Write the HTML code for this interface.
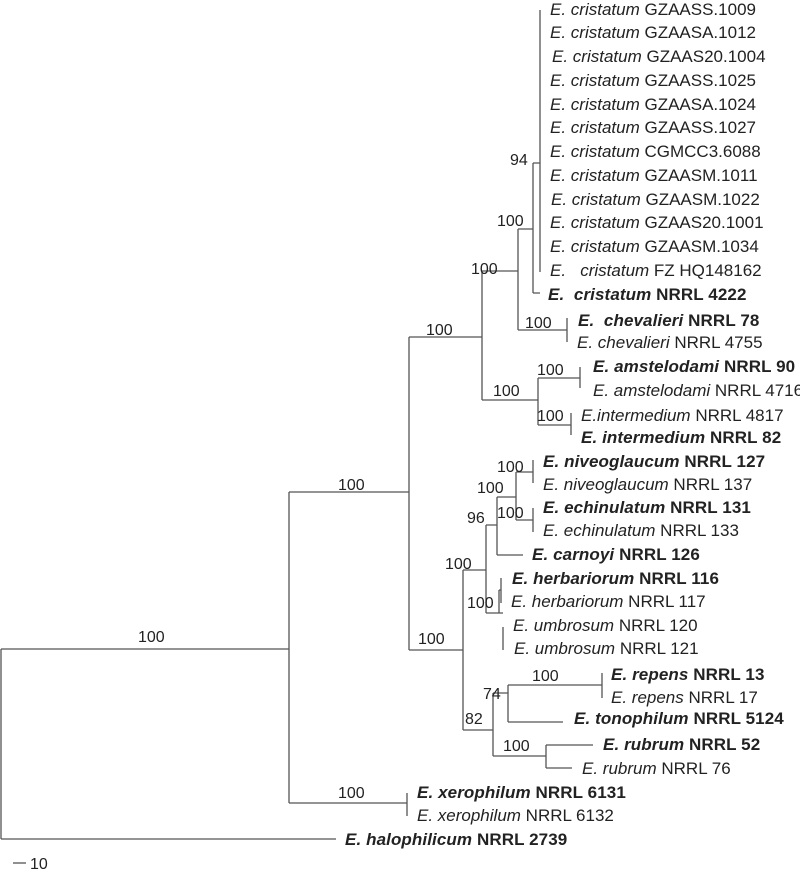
<!DOCTYPE html>
<html><head><meta charset="utf-8"><style>
body{margin:0;background:#fff}
svg{display:block}
text{font-family:"Liberation Sans",sans-serif;font-size:17px;fill:#222}
.n text{font-size:16px}
.i{font-style:italic}
.b{font-weight:bold;letter-spacing:0.1px}
</style></head><body>
<svg width="800" height="875" viewBox="0 0 800 875" xmlns="http://www.w3.org/2000/svg">
<g stroke="#555" stroke-width="1.3" fill="none">
<path d="M1 649V839M1 649H289M1 839H336"/>
<path d="M289 492V803M289 492H409M289 803H407M407 793V816"/>
<path d="M409 337V650M409 337H482M409 650H463"/>
<path d="M482 271V400M482 271H518M482 400H538"/>
<path d="M518 229V330M518 229H533M518 330H567M567 318V342"/>
<path d="M533 163V293M533 163H540M533 293H540M540 10V272"/>
<path d="M538 378V425M538 378H580M538 425H571M580 367V388M571 413V435"/>
<path d="M463 570V730M463 570H486M463 730H493"/>
<path d="M486 525V613M486 525H497M486 613H499"/>
<path d="M497 497V555M497 497H516M497 555H523"/>
<path d="M516 472V520M516 472H533M516 520H533M533 460V483M533 508V532"/>
<path d="M499 590V613M499 590H501M499 613H503M501 578V603M503 627V650"/>
<path d="M493 693V756M493 693H508M493 756H546"/>
<path d="M508 685V722M508 685H602M508 722H563M602 673V698"/>
<path d="M546 745V768M546 745H593M546 768H572"/>
<path d="M13 863H26"/>
</g>
<g class="n">
<text x="30" y="869">10</text>
<text x="138" y="642">100</text>
<text x="338" y="490">100</text>
<text x="426" y="335">100</text>
<text x="471" y="274">100</text>
<text x="497" y="226">100</text>
<text x="510" y="165">94</text>
<text x="525" y="328">100</text>
<text x="537" y="375">100</text>
<text x="493" y="396">100</text>
<text x="537" y="421">100</text>
<text x="418" y="644">100</text>
<text x="445" y="569">100</text>
<text x="467" y="523">96</text>
<text x="477" y="493">100</text>
<text x="497" y="472">100</text>
<text x="497" y="518">100</text>
<text x="467" y="608">100</text>
<text x="532" y="681">100</text>
<text x="483" y="699">74</text>
<text x="465" y="724">82</text>
<text x="503" y="751">100</text>
<text x="338" y="798">100</text>
</g>
<g>
<text x="550" y="15"><tspan class="i">E. cristatum</tspan> GZAASS.1009</text>
<text x="550" y="38"><tspan class="i">E. cristatum</tspan> GZAASA.1012</text>
<text x="552" y="62"><tspan class="i">E. cristatum</tspan> GZAAS20.1004</text>
<text x="550" y="86"><tspan class="i">E. cristatum</tspan> GZAASS.1025</text>
<text x="550" y="110"><tspan class="i">E. cristatum</tspan> GZAASA.1024</text>
<text x="550" y="133"><tspan class="i">E. cristatum</tspan> GZAASS.1027</text>
<text x="550" y="157"><tspan class="i">E. cristatum</tspan> CGMCC3.6088</text>
<text x="550" y="181"><tspan class="i">E. cristatum</tspan> GZAASM.1011</text>
<text x="551" y="205"><tspan class="i">E. cristatum</tspan> GZAASM.1022</text>
<text x="550" y="228"><tspan class="i">E. cristatum</tspan> GZAAS20.1001</text>
<text x="550" y="252"><tspan class="i">E. cristatum</tspan> GZAASM.1034</text>
<text x="550" y="276"><tspan class="i">E.&#160;&#160; cristatum</tspan> FZ HQ148162</text>
<text x="548" y="300" class="b"><tspan class="i">E.&#160; cristatum</tspan> NRRL 4222</text>
<text x="578" y="326" class="b"><tspan class="i">E.&#160; chevalieri</tspan> NRRL 78</text>
<text x="577" y="348"><tspan class="i">E. chevalieri</tspan> NRRL 4755</text>
<text x="593" y="372" class="b"><tspan class="i">E. amstelodami</tspan> NRRL 90</text>
<text x="593" y="396"><tspan class="i">E. amstelodami</tspan> NRRL 4716</text>
<text x="581" y="421"><tspan class="i">E.intermedium</tspan> NRRL 4817</text>
<text x="581" y="443" class="b"><tspan class="i">E. intermedium</tspan> NRRL 82</text>
<text x="543" y="467" class="b"><tspan class="i">E. niveoglaucum</tspan> NRRL 127</text>
<text x="543" y="490"><tspan class="i">E. niveoglaucum</tspan> NRRL 137</text>
<text x="543" y="513" class="b"><tspan class="i">E. echinulatum</tspan> NRRL 131</text>
<text x="543" y="536"><tspan class="i">E. echinulatum</tspan> NRRL 133</text>
<text x="532" y="560" class="b"><tspan class="i">E. carnoyi</tspan> NRRL 126</text>
<text x="512" y="584" class="b"><tspan class="i">E. herbariorum</tspan> NRRL 116</text>
<text x="511" y="607"><tspan class="i">E. herbariorum</tspan> NRRL 117</text>
<text x="513" y="631"><tspan class="i">E. umbrosum</tspan> NRRL 120</text>
<text x="514" y="654"><tspan class="i">E. umbrosum</tspan> NRRL 121</text>
<text x="611" y="680" class="b"><tspan class="i">E. repens</tspan> NRRL 13</text>
<text x="611" y="703"><tspan class="i">E. repens</tspan> NRRL 17</text>
<text x="574" y="724" class="b"><tspan class="i">E. tonophilum</tspan> NRRL 5124</text>
<text x="603" y="750" class="b"><tspan class="i">E. rubrum</tspan> NRRL 52</text>
<text x="582" y="774"><tspan class="i">E. rubrum</tspan> NRRL 76</text>
<text x="417" y="798" class="b"><tspan class="i">E. xerophilum</tspan> NRRL 6131</text>
<text x="417" y="821"><tspan class="i">E. xerophilum</tspan> NRRL 6132</text>
<text x="345" y="845" class="b"><tspan class="i">E. halophilicum</tspan> NRRL 2739</text>
</g>
</svg>
</body></html>
